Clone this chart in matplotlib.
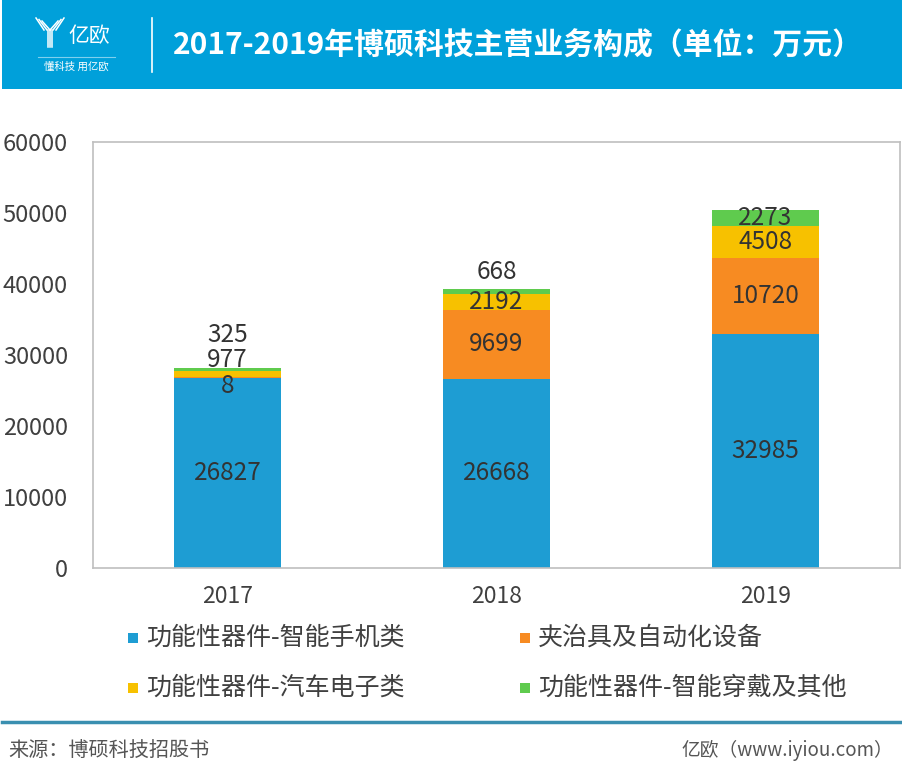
import matplotlib
matplotlib.use("Agg")
import matplotlib.pyplot as plt
from matplotlib.patches import Rectangle
from matplotlib.lines import Line2D
import numpy as np

plt.rcParams['font.family'] = ['Noto Sans CJK SC', 'DejaVu Sans']

years = ['2017', '2018', '2019']
series_names = ['功能性器件-智能手机类', '夹治具及自动化设备', '功能性器件-汽车电子类', '功能性器件-智能穿戴及其他']
smartphone = [26827, 26668, 32985]
fixtures = [8, 9699, 10720]
auto = [977, 2192, 4508]
wearable = [325, 668, 2273]
yticks = [0, 10000, 20000, 30000, 40000, 50000, 60000]
title = '2017-2019年博硕科技主营业务构成（单位：万元）'
source = '来源：博硕科技招股书'
credit = '亿欧（www.iyiou.com）'

colors = ['#1E9DD3', '#F78B22', '#F7C100', '#5FCB4E']
# label offsets (points) for small segments, as in the reference
label_offsets = [
    [0, 0, 0],
    [-6, 0, 0],
    [10, 0, 0],
    [25, 14, 0],
]

W, H = 903, 781
fig = plt.figure(figsize=(W / 100, H / 100), dpi=100)

# header band
fig.patches.append(Rectangle((2 / W, 1 - 89 / H), 1 - 2 / W, 89 / H, transform=fig.transFigure,
                             facecolor='#00A0DA', edgecolor='none', zorder=0))
fig.text(518 / W, 1 - 45 / H, title, color='white', fontsize=21.5, fontweight='bold',
         ha='center', va='center')
# logo
fig.text(89 / W, 1 - 36 / H, '亿欧', color='white', fontsize=15, ha='center', va='center')
fig.text(76 / W, 1 - 67 / H, '懂科技 用亿欧', color='white', fontsize=7.5, ha='center', va='center')
fig.lines.append(Line2D([38 / W, 115 / W], [1 - 57 / H, 1 - 57 / H], transform=fig.transFigure,
                        color='#7FD0EE', lw=0.8))
fig.lines.append(Line2D([152 / W, 152 / W], [1 - 18 / H, 1 - 72 / H], transform=fig.transFigure,
                        color='white', lw=1.2))
# stylized Y icon
for i, dx in enumerate([-6, -3, 0]):
    fig.lines.append(Line2D([(50 + dx - 8) / W, (50 + dx) / W], [1 - (18 + i * 1.5) / H, 1 - 30 / H],
                            transform=fig.transFigure, color='white', lw=1.1))
    fig.lines.append(Line2D([(50 - dx + 8) / W, (50 - dx) / W], [1 - (18 + i * 1.5) / H, 1 - 30 / H],
                            transform=fig.transFigure, color='white', lw=1.1))
    fig.lines.append(Line2D([(50 + dx * 0.6 + 2) / W, (50 + dx * 0.6 + 2) / W], [1 - 30 / H, 1 - 47 / H],
                            transform=fig.transFigure, color='white', lw=1.1))

# axes
ax = fig.add_axes([93 / W, 1 - 568 / H, (900 - 93) / W, (568 - 142) / H])
x = np.arange(len(years))
data = [smartphone, fixtures, auto, wearable]
bottom = np.zeros(len(years))
for k, (vals, c) in enumerate(zip(data, colors)):
    vals = np.array(vals, dtype=float)
    ax.bar(x, vals, 0.4, bottom=bottom, color=c, label=series_names[k], zorder=2)
    for i in range(len(years)):
        ax.annotate(str(int(vals[i])), (x[i], bottom[i] + vals[i] / 2),
                    xytext=(0, label_offsets[k][i]), textcoords='offset points',
                    ha='center', va='center', fontsize=17.5, color='#333333', zorder=3)
    bottom += vals

ax.set_xlim(-0.5, 2.5)
ax.set_ylim(0, 60000)
ax.set_yticks(yticks)
ax.set_yticklabels([str(v) for v in yticks], fontsize=17, color='#404040')
ax.set_xticks(x)
ax.set_xticklabels(years, fontsize=16.5, color='#404040')
ax.tick_params(axis='y', length=0, pad=18)
ax.tick_params(axis='x', length=0, pad=12)
for s in ax.spines.values():
    s.set_color('#BFBFBF')
    s.set_linewidth(1.2)

# legend
leg_pos = [(133, 638), (525, 638), (133, 688), (525, 688)]
for (px, py), name, c in zip(leg_pos, series_names, colors):
    fig.patches.append(Rectangle(((px - 5) / W, 1 - (py + 5) / H), 10 / W, 10 / H,
                                 transform=fig.transFigure, facecolor=c, edgecolor='none'))
    fig.text((px + 13) / W, 1 - py / H, name, fontsize=18, color='#404040', ha='left', va='center')

# footer
fig.lines.append(Line2D([2 / W, 1], [1 - 722 / H, 1 - 722 / H], transform=fig.transFigure,
                        color='#3A8FB0', lw=2.5))
fig.text(8 / W, 1 - 750 / H, source, fontsize=14.5, color='#555555', ha='left', va='center')
fig.text(893 / W, 1 - 750 / H, credit, fontsize=13.5, color='#555555', ha='right', va='center')

fig.savefig('out.png', dpi=100)
